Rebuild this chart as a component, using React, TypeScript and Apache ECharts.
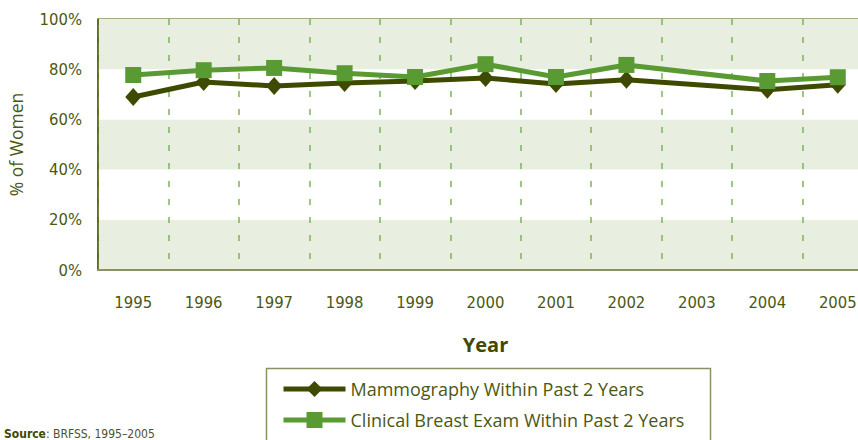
import React, { useEffect, useRef } from "react";
import * as echarts from "echarts";

const years = ["1995", "1996", "1997", "1998", "1999", "2000", "2001", "2002", "2003", "2004", "2005"];
const mammography = [68.9, 74.9, 73.3, 74.5, 75.3, 76.5, 74.1, 75.8, null, 71.8, 73.8];
const clinicalBreastExam = [77.7, 79.6, 80.5, 78.4, 76.9, 82.0, 76.9, 81.7, null, 75.3, 76.8];
const yTicks = [0, 20, 40, 60, 80, 100];

const DARK = "#3e4a00";
const GREEN = "#5a9a32";
const TEXT = "#4b5812";
const CONDENSED = "'DejaVu Sans Condensed', 'Liberation Sans Narrow', 'DejaVu Sans', sans-serif";
const REGULAR = "'Open Sans', 'Noto Sans', sans-serif";

export default function App() {
  const ref = useRef<HTMLDivElement>(null);
  useEffect(() => {
    if (!ref.current) return;
    const chart = echarts.init(ref.current, null, { renderer: "svg" });
    chart.setOption({
      animation: false,
      backgroundColor: "#ffffff",
      grid: {
        left: 98,
        top: 19,
        width: 775,
        height: 251,
        outerBoundsMode: "none",
        containLabel: false,
        show: true,
        borderColor: "#4b5800",
        borderWidth: 1,
        backgroundColor: "transparent",
      },
      xAxis: {
        type: "category",
        data: years,
        boundaryGap: true,
        name: "Year",
        nameLocation: "middle",
        nameGap: 64,
        nameTextStyle: { fontFamily: REGULAR, fontWeight: "bold", fontSize: 20, color: "#3e4a00" },
        axisLine: { show: true, lineStyle: { color: "#8a9164", width: 2 } },
        axisTick: { show: false },
        axisLabel: { margin: 24, fontFamily: CONDENSED, fontSize: 16.5, color: TEXT },
        splitLine: { show: true, lineStyle: { color: "#7fb35a", type: [6, 12], width: 1.5 } },
      },
      yAxis: {
        type: "value",
        min: 0,
        max: 100,
        interval: 20,
        name: "% of Women",
        nameLocation: "middle",
        nameGap: 73,
        nameTextStyle: { fontFamily: REGULAR, fontSize: 17.5, color: TEXT },
        axisLine: { show: true, lineStyle: { color: "#4b5800", width: 1.5 } },
        axisTick: { show: false },
        axisLabel: {
          margin: 16,
          fontFamily: CONDENSED,
          fontSize: 16.5,
          color: TEXT,
          formatter: (v: number) => (yTicks.includes(v) ? v + "%" : ""),
        },
        splitLine: { show: false },
        splitArea: { show: true, areaStyle: { color: ["#e8efe0", "#ffffff"] } },
      },
      legend: {
        left: 276,
        top: 375,
        orient: "vertical",
        itemWidth: 62,
        itemHeight: 20,
        itemGap: 13,
        lineStyle: { width: 5 },
        textStyle: { fontFamily: REGULAR, fontSize: 18, color: TEXT },
        data: ["Mammography Within Past 2 Years", "Clinical Breast Exam Within Past 2 Years"],
      },
      graphic: [
        {
          type: "rect",
          shape: { x: 266.5, y: 368.5, width: 444, height: 90 },
          style: { fill: "none", stroke: "#8a9164", lineWidth: 1.5 },
          silent: true,
        },
        {
          type: "text",
          left: 4,
          top: 428,
          style: {
            text: "{b|Source}: BRFSS, 1995–2005",
            font: `12px ${CONDENSED}`,
            fill: "#4b5230",
            rich: { b: { fontWeight: "bold", fontSize: 12, fontFamily: CONDENSED, fill: "#3e4a00" } },
          },
        },
      ],
      series: [
        {
          name: "Mammography Within Past 2 Years",
          type: "line",
          data: mammography,
          connectNulls: true,
          symbol: "diamond",
          symbolSize: [16, 18],
          itemStyle: { color: DARK },
          lineStyle: { color: DARK, width: 5 },
          z: 2,
        },
        {
          name: "Clinical Breast Exam Within Past 2 Years",
          type: "line",
          data: clinicalBreastExam,
          connectNulls: true,
          symbol: "rect",
          symbolSize: 16,
          itemStyle: { color: GREEN },
          lineStyle: { color: GREEN, width: 5 },
          z: 3,
        },
      ],
    });
    return () => chart.dispose();
  }, []);
  return <div ref={ref} style={{ width: 858, height: 440, position: "absolute", left: 0, top: 0 }} />;
}
